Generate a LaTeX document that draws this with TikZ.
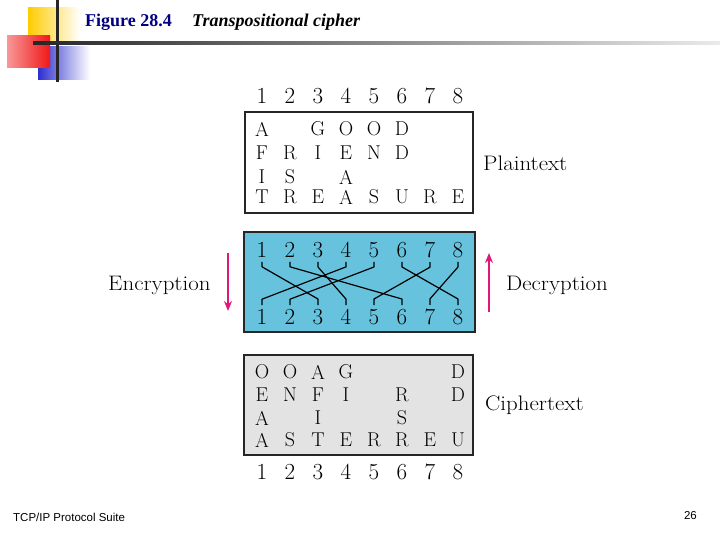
\documentclass[tikz,border=0pt]{standalone}
\usepackage{fontspec}
\newfontfamily\titlefont{Liberation Serif}
\newfontfamily\footfont{Liberation Sans}
\newfontfamily\labelfont[FakeStretch=1.09]{Latin Modern Roman}
\usetikzlibrary{arrows.meta, calc}
\definecolor{keyblue}{HTML}{67C3DD}
\definecolor{ciphergrey}{HTML}{E3E3E3}
\definecolor{flowpink}{HTML}{E0167A}
\definecolor{titlenavy}{HTML}{000080}
\definecolor{deckyellow}{HTML}{FFCC00}
\definecolor{deckred}{HTML}{F01818}
\definecolor{deckblue}{HTML}{2E2ED0}

\begin{document}
\begin{tikzpicture}[
      x=1pt, y=-1pt,
      every node/.style={inner sep=0pt},
      digit/.style={font=\fontsize{23}{25}\selectfont},
      letter/.style={font=\fontsize{20}{22}\selectfont},
      sidelabel/.style={font=\labelfont\fontsize{21}{24}\selectfont, anchor=west},
      framebox/.style={draw=black!85, line width=1.6pt},
      wire/.style={line width=1.2pt, line join=round},
      flow/.style={-{Stealth[length=10pt, width=8pt]}, line width=2pt, draw=flowpink},
      >=Stealth,
    ]
    \useasboundingbox (0,0) rectangle (720,540);

    \shade[left color=deckyellow, middle color=deckyellow, right color=white] (28,8) rectangle (80,43);
    \shade[left color=deckblue, middle color=deckblue, right color=white] (38,47) rectangle (90,80);
    \shade[left color=deckred!45, right color=deckred] (7,36) rectangle (50,68);
    \fill[black!85] (55.5,0) rectangle (58.5,82);
    \shade[left color=black!85, right color=black!8] (33,41.5) rectangle (720,44.5);

    \node[anchor=west, font=\titlefont\fontsize{18}{20}\selectfont\bfseries, text=titlenavy] (fig) at (85,22) {Figure 28.4};
    \node[anchor=west, font=\titlefont\fontsize{18}{20}\selectfont\bfseries\itshape] (caption) at (192,22) {Transpositional cipher};

    \node[framebox, minimum width=228pt, minimum height=101pt] (plain) at (359,162.5) {};
    \node[framebox, fill=keyblue, minimum width=231pt, minimum height=100pt] (key) at (359.5,282) {};
    \node[framebox, fill=ciphergrey, minimum width=229pt, minimum height=100pt] (cipher) at (358.5,405) {};

    \foreach \i in {1,...,8} {
      \node[digit] (head\i) at ({234+28*\i},96) {\i};
      \node[digit] (top\i) at ({234+28*\i},250) {\i};
      \node[digit] (bot\i) at ({234+28*\i},317) {\i};
      \node[digit] (foot\i) at ({234+28*\i},472) {\i};
    }

    \foreach \r/\y/\row in {1/129/{1/A,3/G,4/O,5/O,6/D}, 2/153/{1/F,2/R,3/I,4/E,5/N,6/D},
        3/177/{1/I,2/S,4/A}, 4/197/{1/T,2/R,3/E,4/A,5/S,6/U,7/R,8/E}}
      \foreach \c/\l in \row
        \node[letter] (p\r-\c) at ({234+28*\c},\y) {\l};

    \foreach \r/\y/\row in {1/372/{1/O,2/O,3/A,4/G,8/D}, 2/395/{1/E,2/N,3/F,4/I,6/R,8/D},
        3/418/{1/A,3/I,6/S}, 4/440/{1/A,2/S,3/T,4/E,5/R,6/R,7/E,8/U}}
      \foreach \c/\l in \row
        \node[letter] (c\r-\c) at ({234+28*\c},\y) {\l};

    \foreach \i/\j in {1/3,2/6,3/4,4/1,5/2,6/8,7/5,8/7}
      \draw[wire] ([yshift=-4pt]top\i.south) -- ++(0,5) -- ([yshift=10pt]bot\j.north) -- ([yshift=4pt]bot\j.north);

    \node[sidelabel] (plaintext) at (483,163) {Plaintext};
    \node[sidelabel] (encrypt) at (108,285) {Encryption};
    \node[sidelabel] (decrypt) at (506,285) {Decryption};
    \node[sidelabel] (ciphertext) at (485,405) {Ciphertext};

    \coordinate (enc-a) at (228,253);
    \coordinate (enc-b) at (228,311);
    \coordinate (dec-a) at (489,312);
    \coordinate (dec-b) at (489,253);
    \draw[flow] (enc-a) -- (enc-b);
    \draw[flow] (dec-a) -- (dec-b);

    \node[anchor=west, font=\footfont\fontsize{11.5}{13}\selectfont] (suite) at (13,517) {TCP/IP Protocol Suite};
    \node[anchor=east, font=\footfont\fontsize{11.5}{13}\selectfont] (page) at (697,516) {26};
  \end{tikzpicture}
\end{document}
